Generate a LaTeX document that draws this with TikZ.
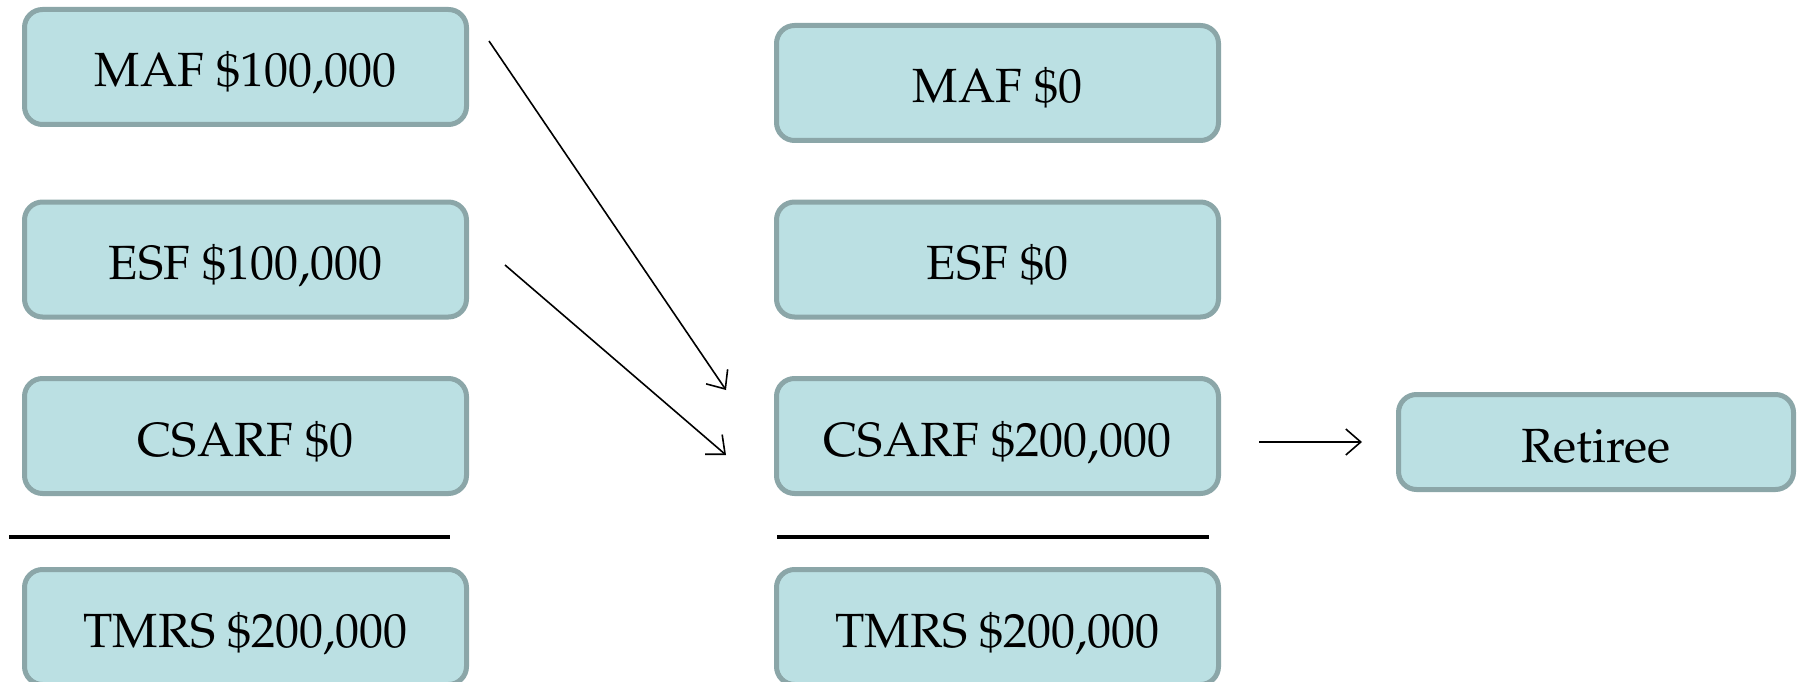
\documentclass[tikz,border=0pt]{standalone}
\usepackage[T1]{fontenc}
\usepackage{mathpazo}
\usetikzlibrary{arrows.meta}
\definecolor{boxfill}{RGB}{187,224,227}
\definecolor{boxline}{RGB}{139,166,168}
\tikzset{
  fundbox/.style={draw=boxline, fill=boxfill, line width=5pt, rounded corners=18pt,
    minimum width=442pt, minimum height=115pt, inner sep=0pt,
    text height=46pt, text depth=6pt,
    font=\fontsize{48}{56}\selectfont, text=black},
  retbox/.style={fundbox, minimum width=395pt, minimum height=95pt},
  flow/.style={line width=1.6pt, -{Straight Barb[length=15pt,width=26pt,line width=1.6pt]}},
  rule/.style={line width=4.5pt, black}
}
\begin{document}
\begin{tikzpicture}[x=1pt,y=-1pt]
\useasboundingbox (0,0) rectangle (1800,682);
% left column
\node[fundbox] (maf1) at (245.5,67) {MAF \$100,000};
\node[fundbox] (esf1) at (245.5,259.5) {ESF \$100,000};
\node[fundbox] (csarf1) at (245.5,436) {CSARF \$0};
\node[fundbox] (tmrs1) at (245.5,627) {TMRS \$200,000};
% right column
\node[fundbox] (maf2) at (997.5,83) {MAF \$0};
\node[fundbox] (esf2) at (997.5,259.5) {ESF \$0};
\node[fundbox] (csarf2) at (997.5,436) {CSARF \$200,000};
\node[fundbox] (tmrs2) at (997.5,627) {TMRS \$200,000};
% retiree
\node[retbox] (ret) at (1596,442) {Retiree};
% separator rules
\coordinate (r1a) at (9,537);
\coordinate (r1b) at (450,537);
\coordinate (r2a) at (777,537);
\coordinate (r2b) at (1209,537);
\draw[rule] (r1a) -- (r1b);
\draw[rule] (r2a) -- (r2b);
% arrows
\coordinate (a1s) at (489,41);
\coordinate (a1e) at (726,390);
\coordinate (a2s) at (505,265);
\coordinate (a2e) at (726,455);
\draw[flow] (a1s) -- (a1e);
\draw[flow] (a2s) -- (a2e);
\draw[flow, shorten <=38pt, shorten >=34pt] (csarf2.east |- ret.west) -- (ret.west);
\end{tikzpicture}
\end{document}
